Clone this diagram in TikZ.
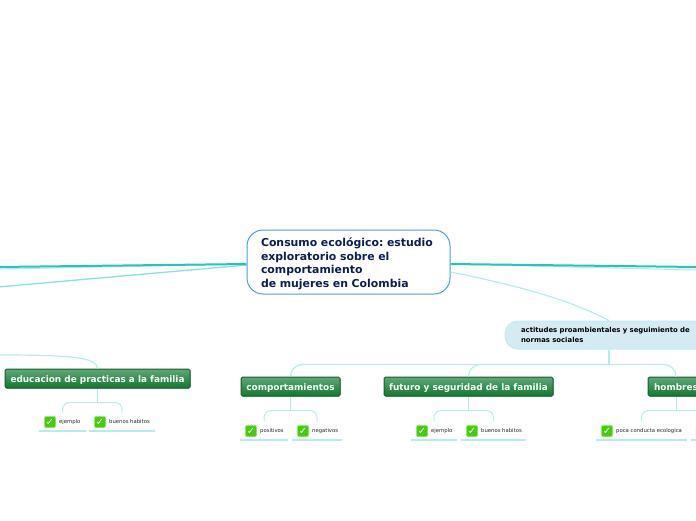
\documentclass[tikz,border=0pt]{standalone}
\usepackage{fontspec}
\setmainfont{DejaVu Sans}
\usetikzlibrary{shadows}
\definecolor{trunkteal}{HTML}{22C6C0}
\definecolor{midteal}{HTML}{86E3DE}
\definecolor{paleteal}{HTML}{B4EDF0}
\definecolor{titleblue}{HTML}{4A9FD8}
\definecolor{titleink}{HTML}{0C1F55}
\definecolor{actfill}{HTML}{D4EBF3}
\definecolor{actedge}{HTML}{BFEBF2}
\definecolor{boxedge}{HTML}{1B5A30}
\definecolor{boxtop}{HTML}{5FA777}
\definecolor{boxlow}{HTML}{0F7A2E}
\definecolor{tickfill}{HTML}{45CC0C}
\frenchspacing
\tikzset{
  titlebox/.style={draw=titleblue, fill=white, line width=1pt, rounded corners=16pt, minimum width=203pt, minimum height=64pt, inner xsep=14pt, text width=175pt, align=left, text=titleink, font=\fontsize{10.9}{13.6}\selectfont\bfseries},
  actbox/.style={draw=actedge, fill=actfill, line width=1pt, rounded corners=13pt, minimum width=208pt, minimum height=28pt, text width=176pt, align=left, font=\fontsize{6.9}{10}\selectfont\bfseries},
  greenbox/.style={draw=boxedge, top color=boxtop, bottom color=boxlow, line width=1pt, rounded corners=1.5pt, minimum height=19pt, inner xsep=4pt, inner ysep=0pt, text height=8.6pt, text depth=0.4pt, text=white, font=\fontsize{8.9}{10}\selectfont\bfseries, drop shadow={shadow xshift=.8pt, shadow yshift=-1pt, opacity=.45}},
  leafbox/.style={minimum height=18pt, inner sep=0pt, anchor=south},
  tickbox/.style={fill=tickfill, draw=tickfill!45, line width=.8pt, rounded corners=2pt, minimum size=11.5pt, inner sep=0pt, text=white, font=\fontsize{10}{10}\selectfont\bfseries},
  leaftext/.style={anchor=west, inner sep=0pt, text=black!85, font=\fontsize{5.3}{6}\selectfont},
  trunk/.style={trunkteal, line width=2pt},
  midline/.style={midteal, line width=1.3pt},
  paleline/.style={paleteal, line width=1.2pt},
  twig/.style={paleteal, line width=1pt},
  leafline/.style={paleteal, line width=1.4pt}
}
\begin{document}
\begin{tikzpicture}[x=1pt, y=-1pt]
  \useasboundingbox (0,0) rectangle (696,520);
  \clip (0,0) rectangle (696,520);

  % Free ends at the page edge
  \coordinate (leftA) at (-2,267);
  \coordinate (leftB) at (-2,269);
  \coordinate (leftC) at (-2,287);
  \coordinate (leftD) at (-2,355);
  \coordinate (rightA) at (698,267);
  \coordinate (rightB) at (698,270);

  % Main nodes
  \node[titlebox] (title) at (348.5,262) {\rule{0pt}{12.5pt}Consumo ecológico: estudio\\exploratorio sobre el\\comportamiento\\de mujeres en Colombia};
  \node[actbox] (act) at (609,335) {actitudes proambientales y seguimiento de\\normas sociales};
  \node[greenbox, minimum width=185pt] (educ) at (97.5,378.5) {educacion de practicas a la familia};
  \node[greenbox, minimum width=99pt] (comp) at (290.5,386.5) {comportamientos};
  \node[greenbox, minimum width=169pt] (futu) at (468.5,386.5) {futuro y seguridad de la familia};
  \node[greenbox, minimum width=56pt] (homb) at (676,386.5) {hombres};

  % Lines from the title
  \draw[midline] ([yshift=-3pt]title.west) -- (leftC);
  \draw[paleline] ([yshift=-2pt]title.west) -- (leftB);
  \draw[trunk] ([yshift=-2pt]title.west) -- (leftA);
  \draw[paleline] ([yshift=-2pt]title.east) -- (rightB);
  \draw[trunk] ([yshift=-2pt]title.east) -- (rightA);
  \draw[paleline] ([yshift=-10pt]title.east) .. controls (520,286) and (570,300) .. (act.north);
  \draw[paleline] (leftD) .. controls (70,355) and (97,357) .. (educ.north);

  % Fork under the blue node
  \draw[paleline, line width=2pt] (act.south) -- ++(0,15) coordinate (actfork);
  \foreach \branch in {comp,futu,homb} {
      \draw[paleline, rounded corners=12pt] (actfork) -| (\branch.north);
  }

  % Leaves: name / underline left / underline right / base / text
  \foreach \leaf/\xa/\xb/\ybase/\txt in {
      educa/39/86/431/ejemplo,
      educb/89/155/431/buenos habitos,
      compa/240/288/440/positivos,
      compb/292/342/440/negativos,
      futua/411/457/440/ejemplo,
      futub/461/526/440/buenos habitos,
      homba/596/687/440/poca conducta ecologica,
      hombb/691/730/440/} {
      \pgfmathsetmacro{\xmid}{(\xa+\xb)/2}
      \pgfmathsetmacro{\wide}{\xb-\xa}
      \node[leafbox, minimum width=\wide pt] (\leaf) at (\xmid,\ybase) {};
      \draw[leafline] (\leaf.south west) -- (\leaf.south east);
      \node[tickbox] (\leaf tick) at (\xa+11,\ybase-9) {✓};
      \node[leaftext] (\leaf text) at (\xa+20,\ybase-9) {\txt};
  }

  % Twigs from the green boxes to their leaves
  \foreach \branch/\one/\two in {educ/educa/educb, comp/compa/compb, futu/futua/futub, homb/homba/hombb} {
      \draw[twig] (\branch.south) -- ++(0,14) coordinate (\branch fork);
      \draw[twig, rounded corners=7pt] (\branch fork) -| (\one.north);
      \draw[twig, rounded corners=7pt] (\branch fork) -| (\two.north);
  }
\end{tikzpicture}
\end{document}
